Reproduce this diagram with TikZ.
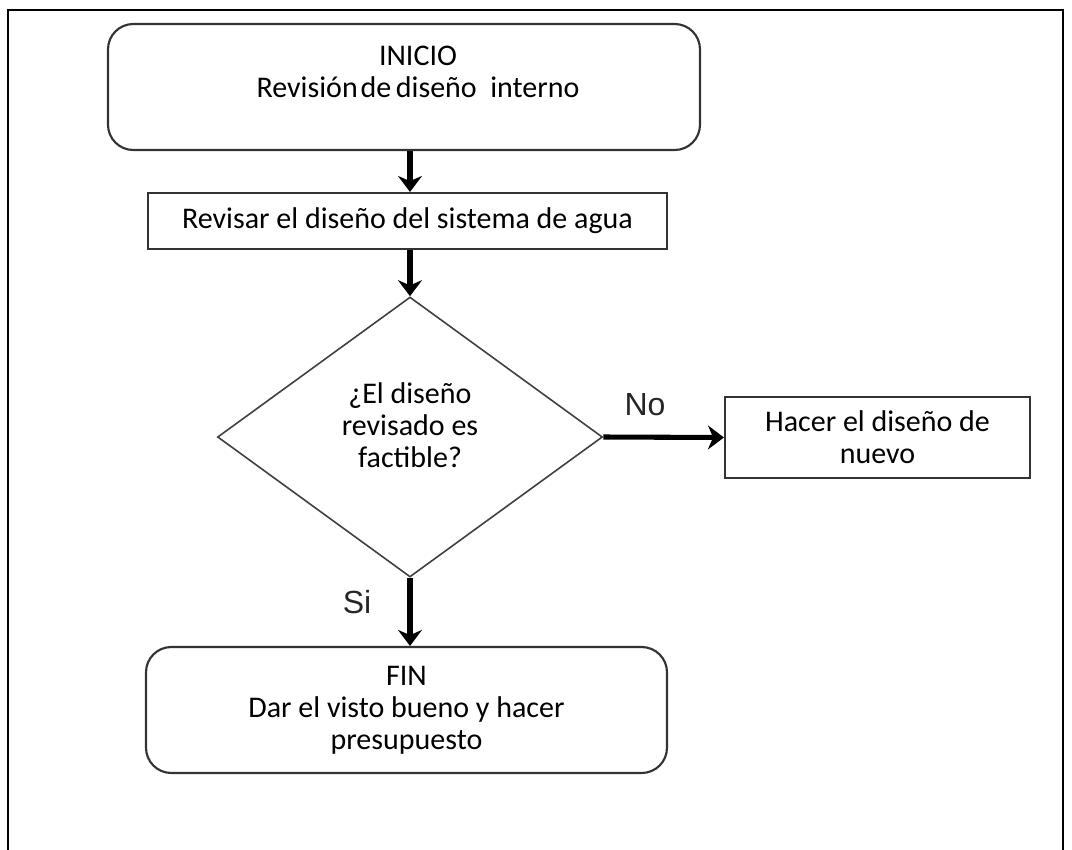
\documentclass[tikz,border=0pt]{standalone}
\usepackage{fontspec}
\setmainfont{Carlito}
\newfontfamily\arialfont{Liberation Sans}
\usetikzlibrary{shapes.geometric,arrows.meta}

\begin{document}
\begin{tikzpicture}[x=0.75pt,y=-0.75pt,
  every node/.style={font=\fontsize{22.5}{24}\selectfont, align=center, inner sep=0pt},
  frameline/.style={line width=2pt, black},
  roundbox/.style={draw=black!80, line width=1.6pt, rounded corners=19pt, rectangle},
  plainbox/.style={draw=black!80, line width=1.6pt, rectangle},
  decision/.style={draw=black!75, line width=1.2pt, diamond},
  flow/.style={line width=3.8pt, black, -{Stealth[length=12pt, width=18pt]}},
  branch/.style={font=\arialfont\fontsize{24}{24}\selectfont, text=black!85}
]
\useasboundingbox (0,0) rectangle (1072,850);

% outer frame
\draw[frameline] (8,850) -- (8,10) -- (1063,10) -- (1063,850);

% start
\node[roundbox, minimum width=444pt, minimum height=94.5pt] (inicio) at (404,87) {};
\node (inicioText) at (418,72) {INICIO\\Revisión\hspace{0.1em}de\hspace{0.15em}diseño\hspace{0.45em}interno};

% review step
\node[plainbox, minimum width=389.25pt, minimum height=42pt] (revisar) at (407.5,221)
  {Revisar el diseño del sistema de agua};

% decision
\node[decision, minimum width=288.75pt, minimum height=210pt] (dia) at (410,437) {};
\node (diaText) at (410,425) {¿El diseño\\revisado es\\factible?};

% redo
\node[plainbox, minimum width=228.75pt, minimum height=60.75pt] (hacer) at (877.5,437.5)
  {Hacer el diseño de\\nuevo};

% end
\node[roundbox, minimum width=390.75pt, minimum height=94.5pt] (fin) at (406.5,710)
  {FIN\\Dar el visto bueno y hacer\\presupuesto};

% connectors
\draw[flow] (inicio.south -| dia.north) -- (revisar.north -| dia.north);
\draw[flow] (revisar.south -| dia.north) -- (dia.north);
\draw[flow] (dia.east) -- (hacer.west);
\draw[flow] (dia.south) -- (fin.north -| dia.south);

% branch labels
\node[branch] (noLabel) at (645,405) {No};
\node[branch] (siLabel) at (357,602) {Si};
\end{tikzpicture}
\end{document}
